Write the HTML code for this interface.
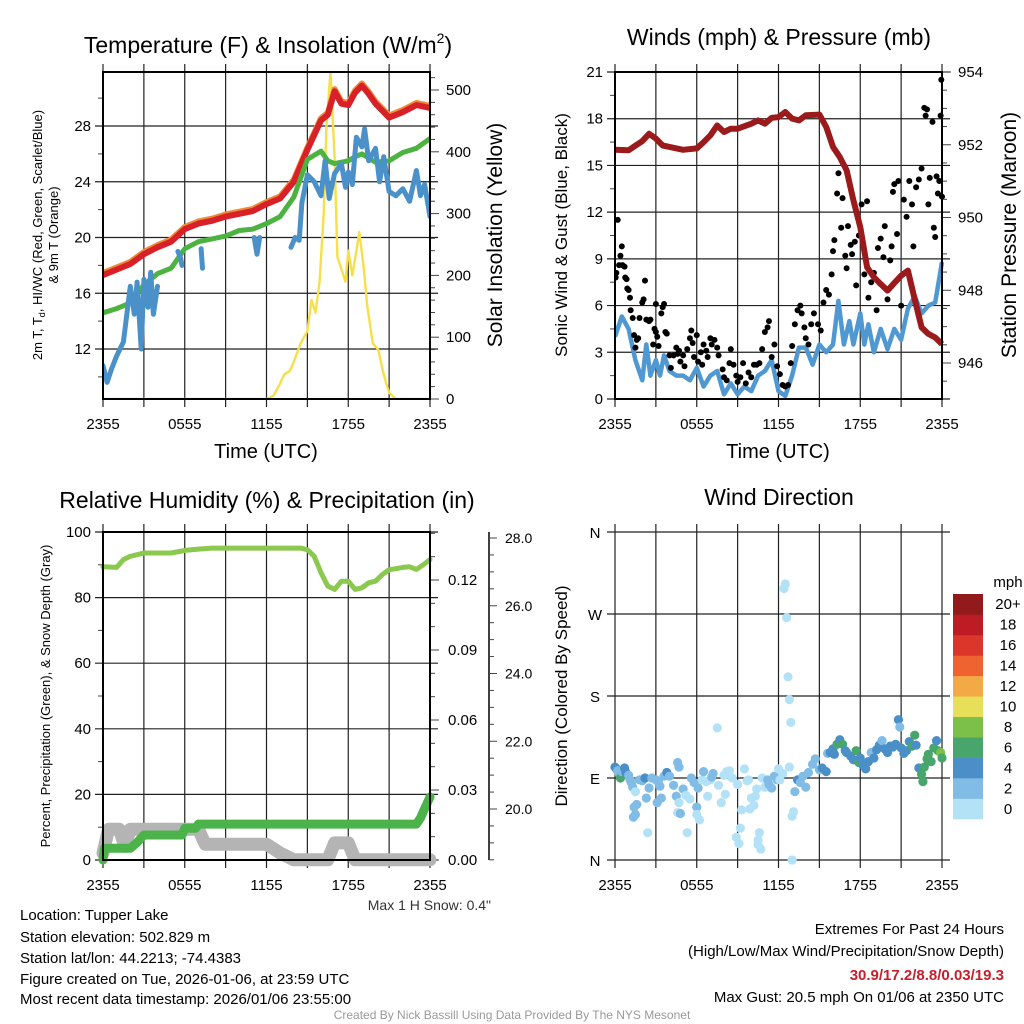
<!DOCTYPE html>
<html><head><meta charset="utf-8"><style>
html,body{margin:0;padding:0;background:#fff;}
svg{display:block;font-family:"Liberation Sans",sans-serif;}
</style></head><body>
<svg id="c" width="1024" height="1024" viewBox="0 0 1024 1024" xmlns="http://www.w3.org/2000/svg">
<g font-size="23" text-anchor="middle" fill="#000">
<text x="268" y="53">Temperature (F) &amp; Insolation (W/m<tspan font-size="14" dy="-10">2</tspan><tspan dy="10">)</tspan></text>
<text x="779" y="45">Winds (mph) &amp; Pressure (mb)</text>
<text x="267" y="508">Relative Humidity (%) &amp; Precipitation (in)</text>
<text x="779" y="505">Wind Direction</text>
</g>
<g fill="#000" text-anchor="middle">
<text x="266" y="458" font-size="20">Time (UTC)</text>
<text x="778" y="458" font-size="20">Time (UTC)</text>
<text transform="translate(42,235) rotate(-90)" font-size="13">2m T, T<tspan font-size="9" dy="3">d</tspan><tspan dy="-3">, HI/WC (Red, Green, Scarlet/Blue)</tspan></text>
<text transform="translate(58,235) rotate(-90)" font-size="13">&amp; 9m T (Orange)</text>
<text transform="translate(502,235) rotate(-90)" font-size="21">Solar Insolation (Yellow)</text>
<text transform="translate(567,235) rotate(-90)" font-size="17">Sonic Wind &amp; Gust (Blue, Black)</text>
<text transform="translate(1016,235) rotate(-90)" font-size="21">Station Pressure (Maroon)</text>
<text transform="translate(50,696) rotate(-90)" font-size="13">Percent, Precipitation (Green), &amp; Snow Depth (Gray)</text>
<text transform="translate(567,696) rotate(-90)" font-size="17">Direction (Colored By Speed)</text>
</g>
<g font-size="15" fill="#000">
<text x="20" y="920">Location: Tupper Lake</text>
<text x="20" y="942">Station elevation: 502.829 m</text>
<text x="20" y="963">Station lat/lon: 44.2213; -74.4383</text>
<text x="20" y="984">Figure created on Tue, 2026-01-06, at 23:59 UTC</text>
<text x="20" y="1004">Most recent data timestamp: 2026/01/06 23:55:00</text>
<text x="1004" y="934" text-anchor="end">Extremes For Past 24 Hours</text>
<text x="1004" y="956" text-anchor="end">(High/Low/Max Wind/Precipitation/Snow Depth)</text>
<text x="1004" y="980" text-anchor="end" fill="#c8202a" font-weight="bold">30.9/17.2/8.8/0.03/19.3</text>
<text x="1004" y="1002" text-anchor="end">Max Gust: 20.5 mph On 01/06 at 2350 UTC</text>
<text x="491" y="910" text-anchor="end" font-size="14" fill="#333">Max 1 H Snow: 0.4"</text>
<text x="512" y="1019" text-anchor="middle" font-size="12" fill="#999">Created By Nick Bassill Using Data Provided By The NYS Mesonet</text>
</g>
</svg>
<script>
// ---------- data ----------
const xTickLabels = ["2355","0555","1155","1755","2355"];
const tHours = [0,1,2,3,4,5,6,7,8,9,10,11,12,13,14,15,16,16.5,17,17.5,18,18.5,19,19.5,20,21,22,23,24];
const tempRed = [17.3,17.7,18.1,18.8,19.3,19.7,20.6,21.0,21.2,21.5,21.7,21.9,22.4,22.8,24.0,26.3,28.4,28.8,30.5,29.6,29.5,30.4,30.9,30.3,29.6,28.6,29.0,29.5,29.3];
const dewGreen = [14.6,14.9,15.3,16.6,17.4,17.8,19.2,19.7,19.9,20.1,20.5,20.6,21.0,21.5,22.9,25.6,26.2,25.5,25.3,25.4,25.5,25.8,26.0,25.7,25.4,25.5,26.1,26.4,27.1];
const chillHours = [0,0.3,0.6,1,1.5,2,2.3,2.5,2.8,3,3.3,3.5,3.7,4,null,5.5,5.7,5.8,null,7.2,7.3,null,11.1,11.3,11.5,null,13.8,14.1,14.4,14.6,15,15.5,16,16.3,16.6,17,17.5,17.8,18,18.3,18.6,19,19.2,19.5,20,20.3,20.6,21,21.5,22,22.5,23,23.3,23.6,24];
const chillBlue = [10.8,9.6,10.5,11.5,12.5,16.5,14.5,16.8,12.0,17.0,15.0,17.5,14.5,16.5,null,19.0,18.5,18.0,null,19.2,17.8,null,20.0,18.8,20.0,null,19.3,20.0,19.8,22.5,24.5,24.0,23.0,25.5,22.8,24.6,25.3,23.6,24.7,23.8,27.2,26.5,27.8,25.5,26.4,24.0,25.8,23.3,23.0,23.5,22.6,24.8,23.0,23.8,21.5];
const solarHours = [0,12,12.5,13,13.3,13.7,14,14.5,15,15.3,15.6,15.9,16.2,16.4,16.7,17,17.2,17.5,17.8,18,18.3,18.6,18.8,19.1,19.4,19.8,20.2,20.6,21,21.5,24];
const solarYellow = [0,0,5,25,40,45,60,90,110,160,140,190,300,440,530,390,230,210,190,240,200,240,270,220,150,90,80,40,10,0,0];
const windHours = [0,0.5,1,1.5,2,2.3,2.6,3,3.3,3.6,4,4.5,5,5.5,6,6.5,7,7.5,8,8.5,9,9.5,10,10.5,11,11.5,12,12.5,13,13.5,14,14.5,15,15.5,16,16.4,16.8,17.2,17.5,18,18.3,18.6,19,19.5,20,20.5,21,21.5,22,22.5,23,23.5,24];
const windBlue = [4.0,5.3,4.5,2.5,1.2,3.5,1.5,2.5,1.5,2.8,1.8,1.5,1.5,1.2,2.0,0.8,1.5,1.8,0.3,1.0,0.3,0.8,0.5,1.5,1.8,2.5,0.5,0.2,1.5,3.3,3.3,2.2,3.5,3.0,3.5,6.3,3.5,5.0,3.5,5.5,3.5,4.8,3.0,4.5,3.2,4.5,3.8,5.8,6.6,5.5,6.0,6.2,8.8];
const gustHours = [0,0.05,0.1,0.2,0.3,0.4,0.5,0.55,0.7,0.75,0.85,0.9,1.0,1.1,1.15,1.3,1.4,1.5,1.6,1.7,1.8,2.0,2.1,2.2,2.3,2.5,2.6,2.8,2.9,3.0,3.0,3.1,3.2,3.4,3.5,3.6,3.7,3.8,4.0,4.1,4.3,4.5,4.6,4.7,4.8,5.0,5.1,5.3,5.5,5.6,5.7,5.8,6.0,6.1,6.3,6.4,6.5,6.7,6.8,7.0,7.1,7.3,7.5,7.6,7.9,8.0,8.2,8.4,8.5,8.7,8.9,9.0,9.2,9.4,9.6,9.8,10.0,10.2,10.4,10.6,10.8,11.0,11.2,11.3,11.5,11.7,11.9,12.1,12.3,12.5,12.7,12.9,13.0,13.2,13.4,13.6,13.7,13.9,14.0,14.2,14.4,14.6,14.9,15.1,15.3,15.5,15.7,15.9,16.0,16.1,16.3,16.4,16.6,16.7,16.9,17.0,17.1,17.3,17.4,17.6,17.7,17.9,18.1,18.3,18.5,18.6,18.8,19.0,19.2,19.3,19.5,19.7,19.8,20.0,20.2,20.3,20.4,20.5,20.7,20.8,21.0,21.2,21.4,21.6,21.8,21.9,22.1,22.3,22.5,22.7,22.8,22.9,23.0,23.1,23.3,23.4,23.5,23.6,23.7,23.8,23.9,23.95,24.0];
const gustBlack = [8.0,7.8,8.1,11.5,8.6,9.2,9.8,8.6,8.5,7.8,7.7,7.1,7.0,6.5,5.7,5.2,4.1,3.3,3.8,3.9,5.2,6.2,6.4,7.6,5.1,5.0,5.1,3.5,4.5,4.3,6.1,4.0,3.4,5.5,5.9,6.1,4.3,4.2,2.8,2.0,2.8,3.3,2.9,3.1,2.4,2.8,2.1,3.2,3.9,4.4,3.6,2.7,4.1,2.4,3.0,2.2,3.5,3.1,2.7,3.9,3.5,3.8,3.3,2.8,1.9,1.4,1.2,2.3,3.2,2.2,1.5,1.1,1.4,2.3,1.0,1.7,1.4,2.2,2.2,2.3,3.2,4.3,4.6,5.0,2.7,3.5,2.1,1.6,0.9,0.8,0.9,2.3,3.4,4.8,5.7,6.0,5.5,4.6,3.9,3.5,4.8,5.5,4.8,4.4,6.2,7.0,6.7,8.0,9.5,10.2,13.2,14.5,11.0,12.9,9.2,8.4,11.1,9.9,9.3,10.1,7.3,10.5,12.5,8.0,12.7,6.5,7.5,8.1,5.7,9.7,10.3,9.1,11.1,6.4,8.9,9.8,13.3,13.8,10.6,14.0,6.0,12.8,11.7,14.0,12.5,9.8,13.6,14.1,14.8,18.7,18.2,18.6,12.5,14.2,17.8,11.0,10.4,14.3,13.2,14.0,18.2,20.5,13.0];
const presHours = [0,1,2,2.5,3,3.5,4,5,6,6.5,7,7.5,8,8.5,9,10,10.5,11,11.5,12,12.5,13,13.5,14,15,15.5,16,16.5,17,17.5,18,18.5,19,19.5,20,20.5,21,21.5,22,22.5,23,23.5,24];
const presMaroon = [951.86,951.85,952.1,952.3,952.17,951.98,951.94,951.86,951.9,952.07,952.26,952.53,952.35,952.44,952.44,952.58,952.67,952.58,952.74,952.76,952.9,952.72,952.67,952.81,952.83,952.49,951.94,951.66,951.3,950.47,949.73,948.63,948.36,948.17,947.99,948.2,948.4,948.54,947.74,946.98,946.8,946.7,946.52];
const rhHours = [0,1,1.5,2,3,4,5,6,7,8,10,12,14,14.5,15,15.5,16,16.5,17,17.5,18,18.5,19,19.5,20,20.5,21,21.5,22,22.5,23,23.5,24];
const rhGreen = [89.4,89.2,91.6,92.6,93.6,93.6,93.6,94.4,94.8,95.1,95.1,95.1,95.1,95.1,94.6,92.6,87.6,83.5,82.5,85,85,82.5,83,84.5,85,87,88.5,88.8,89.2,89.4,88.6,90.0,91.6];
const precipHours = [0,0.1,2,2.5,3,5.8,6,6.8,7,23,23.3,23.6,24];
const precipGreen = [0,0.005,0.005,0.0075,0.0107,0.0107,0.0136,0.0136,0.0154,0.0154,0.018,0.022,0.027];
const snowHours = [0,0.4,1.2,1.6,2,3,7,7.5,12,13,14,16.5,17,18,18.5,24];
const snowGray = [18.7,19.4,19.4,18.9,19.4,19.4,19.4,18.96,18.96,18.7,18.5,18.5,19.0,19.0,18.5,18.5];
const dirHours = [0,0.1,0.2,0.3,0.4,0.5,0.7,0.8,1.0,1.1,1.2,1.3,1.5,1.4,1.35,1.5,1.6,1.8,2.0,2.2,2.3,2.5,2.4,2.7,3.0,3.2,3.3,3.1,3.4,3.6,3.8,4.0,4.3,4.5,4.6,4.7,5.0,4.8,4.6,4.7,5.2,5.3,5.5,5.6,5.8,6.0,6.1,6.0,6.2,6.4,6.5,6.7,6.8,7.0,7.1,7.2,7.5,7.6,7.8,8.0,8.1,8.2,8.4,8.6,8.9,9.1,9.0,9.2,9.3,9.5,9.7,9.9,9.8,10.0,10.2,10.3,10.4,10.5,10.5,10.6,10.7,10.8,11.0,11.2,11.3,11.5,11.7,11.9,12.0,12.1,12.3,12.4,12.5,12.6,12.7,12.8,12.9,12.8,13.0,13.1,13.0,13.2,13.4,13.6,13.8,14.0,14.2,14.5,14.7,15.0,15.2,15.5,15.6,15.8,16.0,16.1,16.3,16.5,16.7,16.9,17.0,17.3,17.5,17.7,17.9,18.0,18.2,18.4,18.6,18.8,19.0,19.2,19.4,19.6,19.8,20.0,20.2,20.4,20.6,20.8,20.9,21.0,21.2,21.4,21.6,21.8,22.0,22.1,22.3,22.5,22.6,22.7,22.9,23.0,23.2,23.4,23.6,23.7,23.9,24.0];
const dirDeg = [102,100,98,95,90,97,101,96,93,88,85,80,75,58,47,50,61,88,87,90,68,79,30,90,88,85,81,63,68,92,96,92,82,70,52,63,78,51,107,102,71,30,67,90,85,58,79,50,44,88,97,86,70,88,91,95,145,82,63,93,72,97,98,90,25,18,83,35,55,100,87,56,88,68,60,70,78,22,17,30,12,90,80,88,83,79,92,88,100,88,95,298,303,266,201,176,151,102,48,53,0,75,88,85,92,80,96,105,111,99,101,97,117,118,122,116,127,132,127,120,118,114,110,120,107,112,104,100,108,118,112,121,126,131,122,118,125,124,127,154,146,123,117,120,130,125,137,126,101,94,86,102,111,116,108,123,131,120,118,112];
const dirSpeed = [4,4,3,3,6,3,4,4,3,3,3,3,1,3,3,2,2,3,2,4,3,2,1,2,2,3,3,3,3,3,4,2,2,3,1,1,3,3,2,2,1,1,1,2,3,3,2,1,1,1,2,1,1,1,2,3,1,1,1,1,1,1,1,1,1,1,1,1,1,1,1,1,1,1,1,1,1,1,1,1,1,1,1,3,3,3,2,3,1,1,1,1,1,1,1,1,1,1,1,1,1,2,4,3,3,3,3,2,2,3,4,4,3,4,4,5,6,4,6,4,4,5,4,6,6,4,4,5,4,3,5,4,4,3,4,4,4,4,4,4,3,4,5,5,4,6,6,4,4,6,6,6,6,6,6,6,4,6,8,6];
const speedBinLabels = ["0","2","4","6","8","10","12","14","16","18","20+"];
const speedBinColors = ["#b3e2f7","#80bce6","#4a8fc7","#48a56c","#7cc04a","#e6df57","#f4a947","#ee6330","#dc3529","#bd1c25","#921a1c"];

// ---------- helpers ----------
const svg = document.getElementById('c');
const NS = 'http://www.w3.org/2000/svg';
function mk(tag, attrs, parent){const e=document.createElementNS(NS,tag);for(const k in attrs)e.setAttribute(k,attrs[k]);(parent||svg).appendChild(e);return e;}
function txt(x,y,s,size,anchor,parent){const e=mk('text',{x:x,y:y,'font-size':size,'text-anchor':anchor||'middle',fill:'#000'},parent);e.textContent=s;return e;}
function scale(d0,d1,r0,r1){return v=>r0+(v-d0)*(r1-r0)/(d1-d0);}
function pathFrom(xs,ys,fx,fy){let d='',pen=false;for(let i=0;i<xs.length;i++){if(xs[i]===null||ys[i]===null){pen=false;continue;}d+=(pen?'L':'M')+fx(xs[i]).toFixed(1)+','+fy(ys[i]).toFixed(1);pen=true;}return d;}

function frame(L,T,R,B,name){
  const g=mk('g',{});
  
  
  const fx=scale(0,24,L,R);
  for(let h=0;h<=24;h+=3){
    const l=mk('line',{x1:fx(h),x2:fx(h),y1:T-8,y2:B+8,stroke:'#222','stroke-width':1.2},g);
    
    
  }
  xTickLabels.forEach((s,i)=>{
    const t=txt(fx(i*6),B+30,s,15,'middle',g);
    
    
  });
  return {g,fx};
}
function hgrid(g,L,R,y){const l=mk('line',{x1:L-8,x2:R+8,y1:y,y2:y,stroke:'#222','stroke-width':1.2},g);
  
  }
function tick(g,x1,x2,y){mk('line',{x1:x1,x2:x2,y1:y,y2:y,stroke:'#444','stroke-width':1},g);}
function border(g,L,T,R,B){const r=mk('rect',{x:L,y:T,width:R-L,height:B-T,fill:'none',stroke:'#000','stroke-width':2},g);
  
  }

// ---------- panel 1: temperature ----------
(function(){
  const L=103,T=72,R=430,B=399;
  const {g,fx}=frame(L,T,R,B,'temperature');
  const fy=scale(12,28,349,126);
  const fs=scale(0,500,399,90);
  for(let v=12;v<=28;v+=4){hgrid(g,L,R,fy(v));const t=txt(L-12,fy(v)+5,String(v),15,'end',g);
    
    }
  for(let v=10;v<=32;v+=2){if(v%4)tick(g,L-5,L,fy(v));}
  for(let v=0;v<=520;v+=20){tick(g,R,R+(v%100?5:9),fs(v));}
  for(let v=0;v<=500;v+=100){const t=txt(R+16,fs(v)+5,String(v),15,'start',g);
    
    }
  const clip=mk('clipPath',{id:'cp1'});mk('rect',{x:L,y:T,width:R-L,height:B-T},clip);
  const pg=mk('g',{'clip-path':'url(#cp1)'});
  const s=mk('path',{d:pathFrom(solarHours,solarYellow,fx,fs),fill:'none',stroke:'#f7df4a','stroke-width':2.4,'stroke-linejoin':'round'},pg);
  
  
  const o=mk('path',{d:pathFrom(tHours,tempRed.map(v=>v+0.15),fx,fy),fill:'none',stroke:'#f08a3a','stroke-width':6,'stroke-linejoin':'round'},pg);
  
  
  const r=mk('path',{d:pathFrom(tHours,tempRed,fx,fy),fill:'none',stroke:'#d72027','stroke-width':6,'stroke-linejoin':'round'},pg);
  
  
  const gr=mk('path',{d:pathFrom(tHours,dewGreen,fx,fy),fill:'none',stroke:'#4cb341','stroke-width':5,'stroke-linejoin':'round'},pg);
  
  
  const b=mk('path',{d:pathFrom(chillHours,chillBlue,fx,fy),fill:'none',stroke:'#4a90c9','stroke-width':5,'stroke-linejoin':'round','stroke-linecap':'round'},pg);
  
  
  border(svg,L,T,R,B);
})();

// ---------- panel 2: winds ----------
(function(){
  const L=615,T=72,R=942,B=399;
  const {g,fx}=frame(L,T,R,B,'winds');
  const fy=scale(0,21,B,T);
  const fp=scale(946,954,363,72);
  for(let v=0;v<=21;v+=3){hgrid(g,L,R,fy(v));const t=txt(L-12,fy(v)+5,String(v),15,'end',g);
    
    }
  for(let v=1.5;v<21;v+=3)tick(g,L-5,L,fy(v));
  for(let v=945.5;v<=954;v+=0.5)tick(g,R,R+(v%2?5:9),fp(v));
  for(let v=946;v<=954;v+=2){const t=txt(R+16,fp(v)+5,String(v),15,'start',g);
    
    }
  const clip=mk('clipPath',{id:'cp2'});mk('rect',{x:L,y:T-4,width:R-L+4,height:B-T+4},clip);
  const pg=mk('g',{'clip-path':'url(#cp2)'});
  const b=mk('path',{d:pathFrom(windHours,windBlue,fx,fy),fill:'none',stroke:'#4f98d2','stroke-width':4.5,'stroke-linejoin':'round'},pg);
  
  
  gustHours.forEach((h,i)=>{
    const c=mk('circle',{cx:fx(h),cy:fy(gustBlack[i]),r:3,fill:'#000'},pg);
    
    
  });
  const p=mk('path',{d:pathFrom(presHours,presMaroon,fx,fp),fill:'none',stroke:'#9b1a1c','stroke-width':6,'stroke-linejoin':'round'},pg);
  
  
  border(svg,L,T,R,B);
})();

// ---------- panel 3: humidity ----------
(function(){
  const L=103,T=532,R=430,B=860;
  const {g,fx}=frame(L,T,R,B,'humidity');
  const fy=scale(0,100,B,T);
  const fpr=scale(0,0.03,B,790);
  const fsn=scale(20,28,809,538);
  for(let v=0;v<=100;v+=20){hgrid(g,L,R,fy(v));const t=txt(L-12,fy(v)+5,String(v),15,'end',g);
    
    }
  for(let v=10;v<100;v+=20)tick(g,L-5,L,fy(v));
  for(let i=0;i<=14;i++){tick(g,R,R+(i%3?5:9),fpr(i*0.01));}
  [0,0.03,0.06,0.09,0.12].forEach(v=>{const t=txt(R+18,fpr(v)+5,v.toFixed(2),15,'start',g);
    
    });
  const ax=mk('line',{x1:489,x2:489,y1:T,y2:B,stroke:'#000','stroke-width':1.5},g);
  
  
  for(let v=18.5;v<=28.1;v+=0.5){if(fsn(v)>=T&&fsn(v)<=B)tick(g,489,489+(Math.abs(v%2)<0.01?8:5),fsn(v));}
  [20,22,24,26,28].forEach(v=>{const t=txt(505,fsn(v)+5,v.toFixed(1),14,'start',g);
    
    });
  const sn=mk('path',{d:pathFrom(snowHours,snowGray,fx,fsn),fill:'none',stroke:'#b4b4b4','stroke-width':13,'stroke-linejoin':'round','stroke-linecap':'round'});
  
  
  const pr=mk('path',{d:pathFrom(precipHours,precipGreen,fx,fpr),fill:'none',stroke:'#4bb34a','stroke-width':9,'stroke-linejoin':'round','stroke-linecap':'round'});
  
  
  const rh=mk('path',{d:pathFrom(rhHours,rhGreen,fx,fy),fill:'none',stroke:'#8bc84e','stroke-width':5,'stroke-linejoin':'round','stroke-linecap':'round'});
  
  
  border(svg,L,T,R,B);
})();

// ---------- panel 4: wind direction ----------
(function(){
  const L=615,T=532,R=942,B=860;
  const {g,fx}=frame(L,T,R,B,'direction');
  const fy=scale(0,360,B,T);
  ['N','E','S','W','N'].forEach((s,i)=>{hgrid(g,L,R,fy(i*90));const t=txt(L-20,fy(i*90)+6,s,15,'middle',g);
    
    });
  dirHours.forEach((h,i)=>{
    const bin=Math.min(10,Math.floor(dirSpeed[i]/2));
    const c=mk('circle',{cx:fx(h),cy:fy(dirDeg[i]),r:4.6,fill:speedBinColors[bin]});
    
    
  });
  const cb=mk('g',{});
  
  
  const bh=(819-594)/11;
  speedBinColors.forEach((col,i)=>{
    const y=819-(i+1)*bh;
    const r=mk('rect',{x:953,y:y,width:30,height:bh+0.3,fill:col},cb);
    
    
    const t=txt(1008,y+bh/2+5,speedBinLabels[i],15,'middle',cb);
    
    
  });
  const u=txt(1008,587,'mph',15,'middle',cb);
  
  
})();
</script>
</body></html>
